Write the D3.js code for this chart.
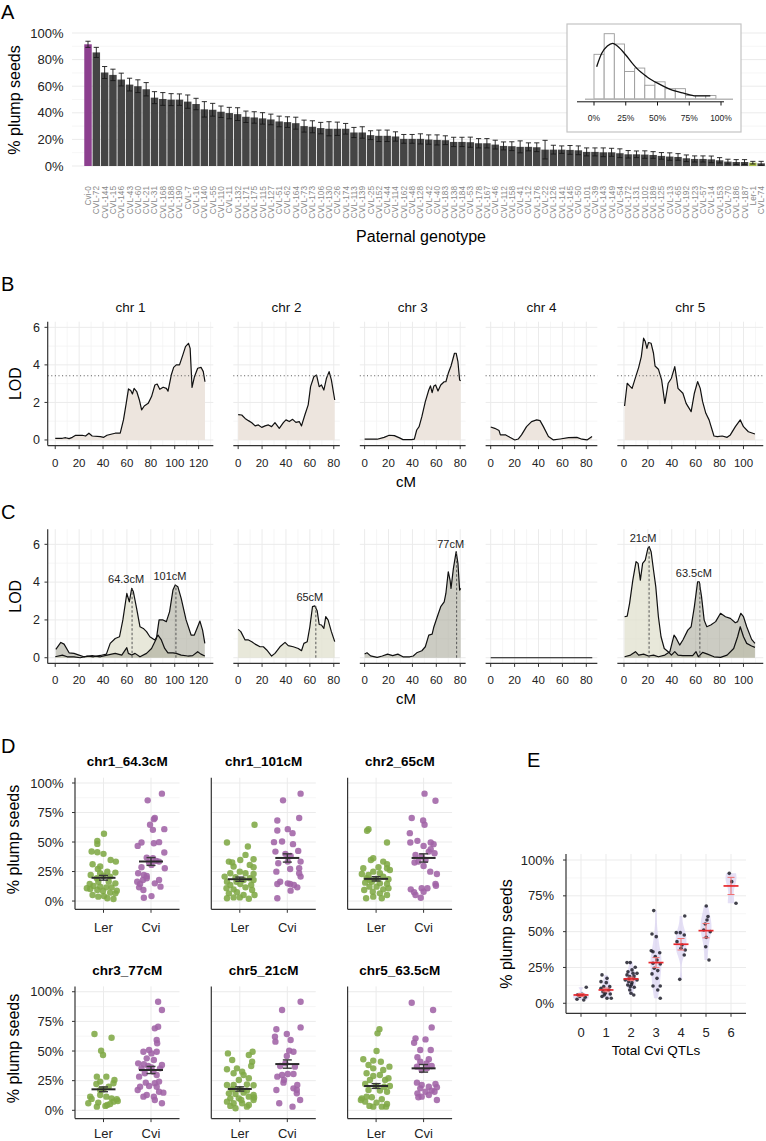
<!DOCTYPE html>
<html><head><meta charset="utf-8">
<script src="https://cdn.jsdelivr.net/npm/d3@7/dist/d3.min.js"></script>
<style>
html,body{margin:0;padding:0;background:#fff;}
svg{display:block;}
text{font-family:"Liberation Sans",Arial,Helvetica,sans-serif;}
</style></head><body>
<svg id="fig" width="766" height="1141"></svg>
<script>
// ================= DATA =================
const genotypes = ["Cvi-0","CVL-72","CVL-144","CVL-15","CVL-146","CVL-43","CVL-60","CVL-21","CVL-31","CVL-168","CVL-188","CVL-190","CVL-7","CVL-16","CVL-140","CVL-55","CVL-110","CVL-11","CVL-132","CVL-171","CVL-175","CVL-115","CVL-127","CVL-51","CVL-62","CVL-164","CVL-73","CVL-173","CVL-106","CVL-130","CVL-26","CVL-174","CVL-113","CVL-139","CVL-25","CVL-152","CVL-44","CVL-114","CVL-162","CVL-48","CVL-128","CVL-42","CVL-40","CVL-183","CVL-138","CVL-184","CVL-53","CVL-178","CVL-167","CVL-46","CVL-112","CVL-158","CVL-41","CVL-12","CVL-176","CVL-22","CVL-126","CVL-141","CVL-145","CVL-50","CVL-101","CVL-39","CVL-143","CVL-149","CVL-54","CVL-172","CVL-131","CVL-102","CVL-189","CVL-125","CVL-13","CVL-65","CVL-192","CVL-123","CVL-57","CVL-14","CVL-153","CVL-70","CVL-186","CVL-187","Ler-1","CVL-74"];
const plumpPct = [91.5,85.4,70.3,68.5,65,61.2,60,57.7,51.4,50.4,49.9,49.9,48.4,46.6,42.6,42.3,40.8,39.8,39,37,36.5,35.8,35,33.5,33,32.2,30,29.5,28.5,28,28,28,25.2,25.2,23.2,22.7,22.7,22.2,20.4,20.4,20.4,19.9,19.6,19.4,18.1,18.1,17.9,17.1,17.1,16.1,15.1,14.9,14.4,14.4,14.1,12.3,12.3,12.3,12.1,11.8,10.6,10.6,10.3,10.3,9.6,8.8,8.8,8.6,8.3,7.6,7.1,6.8,5.8,5.3,5.3,5.0,4.3,3.3,3,3,2.5,2];
const plumpSE = [2.3,3.8,4.5,4.3,4.8,4.8,4.8,5,4.5,4.8,4.5,4.3,5,4.3,5.8,4.8,4.3,4.3,4.8,4.3,4.3,4.3,4,4,4,4.5,4.5,4.5,4.3,5.3,5,4,3.8,4.3,3.3,4.3,4.3,3.5,3.3,3.3,3.8,3.5,3.8,3.3,3.5,3.5,3.8,3.5,3.5,3.3,3,3.3,4.5,3,3.3,7,3.3,2.8,3.3,3.3,3,3,3.3,3,3.3,2.8,2.5,2.8,2.5,2.5,2.8,2.5,2.5,2.3,2.3,2.5,2,1.8,1.8,1.8,1,1.5];
const parentCvi = "Cvi-0", parentLer = "Ler-1";
const barTicks = [0,20,40,60,80,100];

const histEdges = [0,8,16,24,32,40,48,56,64,72,80,88,96];
const histCounts = [13,19,16,8,9,4,5,3,3,1,1,1];
const densityCurve = [[2.1,9.4],[6.1,13.3],[10.5,15.4],[14.7,16.2],[18.4,15.4],[25,12.8],[29.7,10.6],[33.7,8.9],[41.6,6.5],[50,4.6],[60,2.8],[70.5,1.7],[80.3,0.9],[91.6,0.9]];
const insetTicks = [0,25,50,75,100];

const chrNames = ["chr 1","chr 2","chr 3","chr 4","chr 5"];
const chrLen = [126,81,80.5,85,111];
const lodThreshold = 3.42;

const scanB_chr1 = [[0,0.09],[6,0.09],[8.7,0.12],[11.6,0.07],[14.3,0.14],[17.1,0.25],[22.6,0.25],[25.4,0.21],[28.2,0.36],[30.9,0.21],[37.8,0.18],[40.6,0.14],[43.3,0.25],[47.5,0.32],[50.2,0.36],[54.4,0.36],[57.1,1.07],[59.4,1.95],[61.3,2.72],[63.2,2.63],[64.6,2.45],[66,2.75],[68.2,2.58],[70.4,2.13],[72.3,1.6],[74.5,1.81],[77.8,1.95],[80.6,2.31],[83.4,2.93],[85.3,2.98],[87.5,2.7],[90.3,2.81],[93,2.75],[94.4,2.6],[97.1,3.46],[99.1,3.87],[101.3,4.0],[104,4.0],[106.8,4.53],[109,4.97],[111.5,5.15],[112.9,4.88],[114.5,2.8],[116.5,3.37],[119.2,3.82],[122,3.87],[123.9,3.64],[125.3,3.1]];
const scanB_chr2 = [[0,1.35],[3,1.33],[5.8,1.15],[8.6,1.03],[11.4,0.92],[14.2,0.75],[16.9,0.8],[19.7,0.67],[22.5,0.75],[25.3,0.8],[28,0.71],[30.8,0.92],[34.4,0.62],[37.8,0.92],[40,1.07],[42.8,0.98],[45.6,1.1],[48.3,0.94],[51.1,0.98],[53,0.75],[55.8,1.33],[58.6,1.87],[60.6,2.84],[63.3,3.37],[65.6,3.46],[67.8,2.84],[69.7,2.93],[71.7,2.66],[73.9,3.29],[76.1,3.64],[78,3.2],[80.8,2.13]];
const scanB_chr3 = [[0,0.05],[5,0.04],[10.5,0.04],[16.3,0.14],[20.6,0.25],[24.9,0.23],[29.2,0.11],[32.1,0.02],[39.3,0.02],[41.6,0.04],[43.6,0.53],[45.6,0.71],[47.9,1.24],[50.8,2.04],[53.7,2.66],[55.1,2.88],[56.5,2.52],[58,2.88],[59.4,2.93],[61.4,2.61],[63.7,2.93],[66.6,3.1],[68,3.1],[70,3.55],[72.3,3.94],[75.2,4.62],[76.6,4.62],[78.1,4.17],[79.5,3.2],[80.4,3.16]];
const scanB_chr4 = [[0,0.69],[3.4,0.62],[7,0.5],[8.1,0.27],[12.6,0.27],[16,0.14],[20.2,0],[23,0.05],[25.8,0.27],[30,0.71],[34.2,0.98],[38.5,1.07],[41.3,1.03],[44.1,0.71],[48.3,0.18],[52.5,0],[58.1,0.05],[65.1,0.12],[72.1,0.14],[76.4,0.04],[80.6,0],[84.8,0.18]];
const scanB_chr5 = [[0.5,1.81],[2.7,3.02],[4.7,2.88],[6.8,2.75],[9,3.2],[12.3,3.87],[14.5,4.44],[16.4,5.42],[17.8,5.24],[19.2,4.88],[20.5,5.19],[22.7,5.15],[24.7,4.62],[26,3.94],[28.8,3.77],[31.5,3.2],[34.2,1.95],[37,3.02],[39.7,3.29],[42.5,3.91],[43.8,3.37],[45.2,2.75],[49.3,2.49],[52,1.95],[56.2,1.51],[58.9,2.49],[61.6,3.11],[63.8,2.75],[65.8,2.04],[68.5,1.42],[71.2,1.07],[75.3,0.21],[78.1,0.18],[82.2,0.21],[86.3,0.14],[89,0.27],[93.2,0.71],[97.3,1.07],[100,0.71],[104.1,0.44],[109.6,0.32]];

const scanC_chr1_q1 = [[0,0.05],[6,0.14],[10,0.05],[15.7,0.05],[21,0],[26.8,0.09],[32,0.05],[37.8,0.12],[42.8,0.19],[46,0.76],[50.2,1.02],[53.8,1.11],[56.6,2.0],[59.9,3.4],[62,2.96],[64,3.67],[65.4,3.49],[68.1,2.61],[70.9,1.64],[73.7,1.55],[76.4,1.38],[79.2,1.11],[83.3,0.94],[86,1.2],[88.8,0.94],[91.6,0.49],[94.3,0.26],[98.5,0.26],[101.2,0.23],[105.4,0.14],[110.9,0.09],[115,0.11],[119.2,0.32],[121.9,0.19],[125.2,0.09]];
const scanC_chr1_q2 = [[0.5,0.44],[4.7,0.81],[7.4,0.72],[11.6,0.26],[15.7,0.23],[19.9,0.14],[24,0.05],[30.9,0.11],[37.8,0.05],[43.3,0.14],[50.2,0.23],[55.7,0.14],[59.9,0.53],[61.2,0.23],[64,0.14],[66.8,0.23],[70.9,0.05],[76.4,0.23],[80.6,0.49],[84.7,1.02],[86.9,2.0],[90.2,2.0],[93,1.91],[95.7,2.44],[98.5,3.58],[100.4,3.85],[102.6,3.76],[105.4,3.14],[109.5,2.0],[113.7,1.2],[116.4,1.2],[119.2,1.64],[121.1,1.94],[123.3,1.46],[125.2,0.76]];
const scanC_chr2 = [[0,1.5],[2.2,1.38],[5.8,0.94],[8.6,0.94],[11.4,0.85],[14.2,0.72],[18.3,0.58],[21.1,0.58],[23.9,0.41],[28,0.09],[30.8,0.23],[35,0.58],[39.2,0.81],[41.9,0.64],[46.1,0.58],[50.3,0.49],[53,0.37],[55,0.76],[57.8,0.85],[60,1.64],[62.2,2.7],[64.2,2.74],[66.1,2.49],[67.8,1.76],[69.7,1.73],[71.7,1.55],[73.3,2.17],[75.3,1.99],[78,1.38],[80.8,0.85]];
const scanC_chr3 = [[0,0.2],[2,0.26],[5,0.1],[10.5,0.02],[14.8,0.09],[19.2,0.19],[23.5,0.11],[27.8,0.19],[32.1,0.05],[37.8,0.05],[40.7,0.09],[43.6,0.26],[47.9,0.37],[50.8,0.58],[53.7,1.2],[56.5,1.25],[58,1.64],[60.8,2.17],[63.7,2.7],[66.6,2.96],[68,3.4],[70,4.55],[71.5,4.11],[72.3,3.67],[74.3,4.73],[76.6,5.61],[78.1,4.99],[79.5,3.58],[80.4,3.67]];
const scanC_chr4 = [[0,0],[85,0]];
const scanC_chr5_q1 = [[0.5,2.17],[2.7,2.2],[4.7,2.88],[7.4,4.11],[10.1,5.08],[11.8,4.99],[13.7,4.11],[15.6,4.99],[17.8,5.17],[20,5.79],[21.1,5.88],[22.7,5.61],[24.7,4.64],[26.6,3.76],[28.8,2.17],[31,1.11],[33.7,0.49],[37,0.32],[39.7,0.14],[42.5,0.32],[45.2,0.14],[49.3,0.11],[53.4,0.11],[57.5,0.11],[60.3,0.32],[62.2,0.05],[65.8,0.28],[69.9,0.19],[75.3,0.05],[80.8,0.02],[86.3,0.14],[91.8,0.49],[95.1,1.11],[97.3,1.64],[100,1.11],[102.7,0.76],[106.8,0.62],[109.6,0.55]];
const scanC_chr5_q2 = [[0.5,0.05],[5.5,0.14],[9.6,0.32],[12.3,0.14],[16.4,0.19],[20.5,0.09],[24.7,0.14],[28.8,0.05],[34.2,0.14],[38.4,0.32],[41.9,1.2],[43.8,1.02],[46.6,0.67],[49.3,0.94],[53.4,1.46],[56.2,1.64],[58.9,2.7],[61.6,4.02],[63,4.02],[64.9,3.23],[67.1,1.99],[69.3,1.64],[72.6,1.73],[76.7,1.91],[80.8,2.35],[84.9,2.17],[89,2.08],[93.2,1.85],[95.1,1.91],[97.8,2.35],[100,2.17],[102.7,1.64],[106.8,0.97],[109.6,0.76]];

const qtlChr = [0,0,1,2,4,4];
const qtlPos = [64.3,101,65,77,21,63.5];
const qtlLod = [3.67,3.85,2.74,5.55,5.88,4.02];
const qtlLabels = ["64.3cM","101cM","65cM","77cM","21cM","63.5cM"];

// Panel D: [jitter (category units), % plump seeds]
const dTitles = ["chr1_64.3cM","chr1_101cM","chr2_65cM","chr3_77cM","chr5_21cM","chr5_63.5cM"];
const dGroups = ["Ler","Cvi"];
const d1Ler = [[0.01,57],[-0.13,51],[-0.13,48.4],[-0.25,42],[-0.13,41.4],[0,40],[0.15,34.8],[0.26,33.4],[-0.23,31.2],[-0.07,29.2],[-0.12,27.2],[0.08,24.9],[0.25,24.1],[-0.27,22.1],[-0.07,23.5],[0,21.5],[0.14,20.7],[-0.14,19.3],[-0.11,16.4],[-0.29,14.4],[0.25,15],[-0.21,12.7],[-0.07,12.2],[0.06,11.6],[0.17,11.6],[0.11,16.4],[-0.28,10.2],[-0.13,9.3],[-0.01,8.5],[0.14,7.1],[0.28,8.8],[-0.23,5.1],[-0.11,3.7],[0.01,4.2],[0.08,2.3],[0.21,1.7],[0.25,6.5],[-0.35,10.8]];
const d1Cvi = [[0.23,91],[-0.07,85.3],[0.08,70.3],[0.06,69.4],[-0.02,64.6],[0.04,60.3],[0.28,60.9],[-0.2,49.6],[-0.28,46.7],[0.06,49],[0.17,49.9],[0.28,41.1],[-0.09,36.8],[0.04,36.3],[-0.04,32.6],[0.11,34],[0.17,33.4],[0.01,30.6],[-0.2,28.6],[0.29,27.8],[-0.27,23.5],[-0.15,22.1],[-0.09,19.3],[-0.17,17.8],[-0.29,16.4],[-0.23,14.4],[0.17,17.8],[0.08,15],[0.2,12.2],[-0.25,11.6],[-0.16,9.3],[0.01,4.2],[-0.15,2.8],[-0.09,21.2]];
const d2Ler = [[0.31,64.6],[-0.27,49.6],[0.17,46.2],[0.12,39.1],[-0.23,33.4],[-0.16,32.6],[0.01,34.8],[0.29,35.4],[-0.13,29.2],[0.21,30.6],[0.29,28.6],[0,24.9],[-0.2,23.5],[0.12,23.5],[0.29,22.9],[-0.32,20.7],[-0.09,20.1],[0.21,19.3],[-0.27,16.4],[-0.07,16.4],[0.08,17.8],[0.29,17.8],[-0.2,13.6],[0.01,14.4],[0.24,13.6],[-0.28,10.8],[-0.13,9.9],[0.12,11.6],[0.26,9.3],[-0.23,6.5],[-0.06,7.4],[0.08,5.1],[-0.27,2.3],[-0.13,3.1],[0.19,2],[0.31,5.1],[0,3.1]];
const d2Cvi = [[0.28,91],[-0.09,85.3],[0.25,70.3],[-0.21,68.3],[0.01,60.9],[-0.21,59.8],[0.11,57.5],[-0.11,50.4],[-0.28,49.9],[0.12,48.2],[-0.25,41.9],[0.23,42.5],[-0.04,40],[0.07,38.2],[-0.19,32],[0.01,33.4],[0.28,33.4],[-0.23,24.9],[0.06,27.2],[0.25,27.8],[0.28,20.7],[0.25,23.5],[-0.15,16.4],[-0.21,14.4],[0.06,14.4],[0.14,13.6],[0.21,11.6],[0.07,8.8],[0.01,15],[-0.21,2.3]];
const d3Ler = [[-0.16,60.9],[-0.19,59.5],[0.23,49.6],[-0.06,36.3],[-0.11,34.8],[0.15,33.4],[0.23,31.2],[-0.27,27.8],[-0.06,24.9],[-0.3,22.9],[0.08,23.5],[0.23,27.8],[0.29,26.3],[-0.2,19.3],[0,18.7],[0.15,20.7],[0.26,18.4],[-0.23,15.6],[-0.09,16.4],[0.08,15],[0.23,14.4],[-0.14,12.2],[0.01,12.2],[0.15,9.9],[0.26,10.8],[-0.25,9.3],[-0.07,7.9],[0.08,6.5],[-0.21,2.3],[-0.06,3.7],[0.12,2.3],[0.23,5.1],[-0.13,17.8],[-0.16,22.1],[0.05,28.6]];
const d3Cvi = [[0.02,91],[0.25,85],[-0.25,70.3],[-0.01,68.3],[0.02,64.6],[-0.29,57.5],[-0.28,49.6],[-0.13,51],[0,46.7],[0.15,49.6],[0.21,48.2],[-0.17,39.1],[-0.04,37.7],[0.11,41.9],[0.23,40.5],[-0.19,32.6],[-0.11,33.4],[0,29.7],[0.04,34.8],[0.14,24.9],[0.28,22.9],[0.15,44],[0.25,14.4],[0.26,13],[-0.27,9.9],[-0.2,7.4],[-0.04,10.8],[0,7.9],[0.08,10.8],[-0.06,2.8],[-0.17,5.1]];
const d4Ler = [[-0.19,64.3],[0.17,61.2],[-0.05,50.3],[-0.01,46.6],[-0.14,28.4],[0.06,28.4],[0.23,25.6],[-0.07,24.2],[-0.15,22.2],[0.11,19.9],[0.21,22.8],[0,17.7],[-0.28,11.5],[-0.07,12.9],[0.06,11.5],[0.17,10.1],[0.28,9.3],[0.21,7.3],[0.3,7.9],[-0.32,5.9],[-0.11,6.5],[0.04,3.7],[-0.14,3.1],[0.08,4.5],[0.14,5.3],[-0.25,9.6],[-0.07,17.1]];
const d4Cvi = [[0.15,91.6],[0.23,84.6],[0.08,69.1],[0.15,70.5],[0.12,59.3],[0.13,56.5],[-0.16,49.4],[-0.04,50.8],[0.01,48],[0.12,49.4],[-0.09,43.8],[0.06,42.4],[-0.27,39.6],[-0.15,38.8],[-0.06,37.4],[0.23,38.2],[-0.2,35.4],[0.01,36.2],[0.19,35.4],[-0.13,31.2],[0.05,32.6],[-0.25,28.4],[0.12,29.8],[-0.11,23.3],[0.08,22.8],[0.17,24.2],[-0.23,19.9],[-0.04,20.5],[0.12,19.9],[-0.28,17.1],[0.17,15.7],[-0.09,12.9],[0.26,14.9],[-0.16,11.5],[0.08,8.7],[0.06,11.5],[0.23,5.9]];
const d5Ler = [[-0.25,48],[0.19,46.6],[0.27,49.4],[-0.16,42.4],[0.26,41],[0.24,37.4],[-0.27,34.6],[-0.06,35.4],[0.05,32.6],[-0.13,31.2],[0.08,29.8],[0.19,27],[-0.02,25.6],[-0.27,21.3],[-0.13,21.3],[0.15,21.9],[0.29,21.1],[-0.16,17.7],[0,17.7],[0.15,16.6],[-0.23,14.3],[-0.09,13.8],[0.08,14.9],[0.29,12.9],[-0.2,10.1],[-0.02,10.1],[0.19,11.5],[0.29,8.7],[-0.27,7.3],[-0.13,5.9],[0.05,5.9],[0.19,4.5],[-0.09,1.7],[0.15,3.1],[-0.2,3.7],[0.3,10.8],[0.03,8.7]];
const d5Cvi = [[0.28,91.6],[-0.11,84.6],[0.28,69.9],[-0.23,68.3],[-0.26,62.1],[-0.25,57.9],[-0.01,64.3],[0.07,59.3],[0.04,50.3],[-0.01,45.8],[0.13,49.4],[-0.04,39.6],[-0.15,37.4],[0.16,36.8],[-0.21,28.4],[-0.11,29.8],[0.01,30.6],[0.13,30.6],[-0.07,25.6],[0.21,21.3],[0.13,18.5],[-0.23,17.1],[0.2,17.1],[0.2,14.3],[0.27,8.7],[-0.17,5.9],[0.11,3.1],[-0.08,23.3]];
const d6Ler = [[0.07,68.3],[0.03,64.9],[0.01,50],[-0.27,43],[-0.06,41.9],[-0.16,38.2],[0.1,41],[0.28,36.8],[-0.06,35.4],[0.15,34],[-0.2,31.2],[-0.06,28.9],[0.08,29.8],[0.26,27],[-0.13,25.6],[0.19,25.6],[-0.23,22.2],[0,20.5],[0.29,20.5],[-0.16,17.1],[0.08,16.6],[0.23,15.7],[-0.3,10.1],[-0.09,11],[0.12,9.3],[-0.23,7.3],[0.01,6.5],[0.23,5.3],[-0.14,3.7],[-0.06,3.1],[0.12,3.1],[0.21,3.1],[-0.32,8.7],[-0.2,11.5],[0.17,19.9]];
const d6Cvi = [[-0.25,90.7],[0.2,84.6],[0.17,69.9],[-0.17,60.7],[0.04,59.8],[-0.2,57],[-0.07,50.8],[0.15,50.8],[-0.13,44.7],[0.11,43],[-0.07,41],[0.06,39.6],[0.17,37.4],[-0.14,36.8],[-0.04,34],[0.07,35.4],[-0.14,23.3],[-0.04,21.3],[0.11,19.9],[0.25,22.2],[0.28,19.4],[-0.07,18.5],[0.17,16.6],[0.04,15.7],[-0.13,14.3],[-0.04,11.5],[0.11,12.9],[0.23,15.7],[0.28,8.7],[-0.11,11]];
const dLerMean = [19.7,18.5,18.8,17.7,18,20.5];
const dLerSE = [2,1.8,1.8,2,1.8,2];
const dCviMean = [33.5,36.5,36.5,34,39,35.4];
const dCviSE = [3.3,3.5,3.5,3,3.5,3.2];
const pctTicks = [0,25,50,75,100];

// Panel E: points per number of Cvi QTLs, [jitter (category units), %]
const eCounts = [0,1,2,3,4,5,6];
const eP0 = [[-0.16,2.8],[-0.05,4.7],[0.11,2.3],[0.17,4.2],[0.21,11.2],[0.04,6.3],[-0.13,6]];
const eP1 = [[-0.16,19.8],[0.04,17.4],[-0.2,15.1],[0.01,14.4],[-0.09,11.6],[0.11,9.3],[-0.12,8.1],[-0.03,7],[0.17,6.5],[0.21,3.5],[0.04,3.5],[-0.16,4.7],[-0.07,5.8],[0.15,11.6],[-0.2,10.5]];
const eP2 = [[-0.16,28.4],[-0.03,28.4],[0.17,25.1],[0.04,23.3],[0.24,20.9],[-0.16,19.8],[-0.05,18.6],[0.11,17.4],[-0.09,15.1],[0.04,14.4],[-0.13,12.8],[-0.03,11.6],[0.13,11.2],[-0.05,9.3],[0.11,5.8],[-0.23,16.3],[0.24,16.3],[0,7],[0.02,13],[-0.08,17],[0.08,21],[-0.12,22],[0.12,19]];
const eP3 = [[-0.09,64.7],[-0.16,48.4],[0.01,46.5],[-0.19,36.7],[-0.12,36],[0.15,35.3],[-0.03,32.6],[0.04,30.2],[-0.12,27.9],[0.17,27.4],[-0.07,24.4],[0.07,22.8],[-0.16,20.5],[0.04,17.4],[-0.12,12.1],[0.17,12.1],[0.07,9.3],[0.17,3.5]];
const eP4 = [[-0.19,49.3],[-0.03,49.3],[0.13,47.7],[-0.16,43],[0.04,40.7],[0.17,37.2],[0.13,33.7],[0.15,60.9],[-0.05,16.7],[0,38.4]];
const eP5 = [[0.01,67.9],[0.08,60.5],[0.04,58.1],[-0.03,55.3],[0.17,50],[-0.09,51.2],[0.01,46],[-0.01,39.5],[0.12,30.2]];
const eP6 = [[-0.07,90.7],[0.03,84.9],[0.2,69.8]];
const eMean = [5.8,9.3,17,28.4,41.2,50.7,81.9];
const eSE = [1,1.3,1.2,3.5,4,5,6];

// ================= DRAWING =================
const svg = d3.select("#fig");
const GRID = "#ebebeb", GRIDMIN = "#f4f4f4", TXT = "#222";
function hline(g, x1, x2, y, col, w){ g.append("line").attr("x1",x1).attr("x2",x2).attr("y1",y).attr("y2",y).attr("stroke",col).attr("stroke-width",w); }
function vline(g, x, y1, y2, col, w){ g.append("line").attr("x1",x).attr("x2",x).attr("y1",y1).attr("y2",y2).attr("stroke",col).attr("stroke-width",w); }
function txt(g, x, y, s, size, anchor, opts={}){
  const t = g.append("text").attr("x",x).attr("y",y).text(s).attr("font-size",size).attr("text-anchor",anchor||"start").attr("fill",opts.fill||TXT);
  if(opts.bold) t.attr("font-weight","bold");
  if(opts.rot) t.attr("transform",`rotate(-90,${x},${y})`);
  return t;
}
function panelLetter(x,y,s){ txt(svg,x,y,s,20,"start",{fill:"#000"}); }

// ---------- Panel A ----------
(function(){
  const g = svg.append("g");
  const y = d3.scaleLinear().domain([0,100]).range([166,33]);
  const x = d3.scaleBand().domain(genotypes).range([83.85,765.3]).paddingInner(0.1).paddingOuter(0.05);
  d3.range(10,100,20).forEach(t=>hline(g,72,766,y(t),GRIDMIN,0.8));
  barTicks.forEach(t=>hline(g,72,766,y(t),GRID,1));
  const bw = x.bandwidth();
  g.selectAll("rect.bar").data(genotypes).join("rect")
    .attr("x",d=>x(d)).attr("width",bw)
    .attr("y",(d,i)=>y(plumpPct[i])).attr("height",(d,i)=>y(0)-y(plumpPct[i]))
    .attr("fill",d=>d===parentCvi?"#8c3f8f":(d===parentLer?"#a9bd4a":"#454545"));
  genotypes.forEach((d,i)=>{
    const cx = x(d)+bw/2, lo=y(plumpPct[i]-plumpSE[i]), hi=y(plumpPct[i]+plumpSE[i]);
    vline(g,cx,lo,hi,"#1a1a1a",0.9);
    hline(g,cx-2.6,cx+2.6,hi,"#1a1a1a",0.9);
    hline(g,cx-2.6,cx+2.6,lo,"#1a1a1a",0.9);
    g.append("text").attr("transform",`translate(${cx+3},186) rotate(-90)`).attr("text-anchor","end")
      .attr("font-size",8.3).attr("fill","#8a8a8a").text(d);
  });
  barTicks.forEach(t=>txt(g,63.5,y(t)+4.6,t+"%",13,"end"));
  txt(g,20,100,"% plump seeds",16,"middle",{rot:true,fill:"#000"});
  txt(g,421,242,"Paternal genotype",16,"middle",{fill:"#000"});
  // inset
  const ig = svg.append("g");
  ig.append("rect").attr("x",567).attr("y",24).attr("width",174).attr("height",108).attr("fill","#fff").attr("stroke","#c4c4c4").attr("stroke-width",1.2);
  const hx = d3.scaleLinear().domain([0,100]).range([594,721]);
  const hy = d3.scaleLinear().domain([0,19]).range([99,33.7]);
  histCounts.forEach((c,i)=>{
    ig.append("rect").attr("x",hx(histEdges[i])).attr("width",hx(histEdges[i+1])-hx(histEdges[i]))
      .attr("y",hy(c)).attr("height",hy(0)-hy(c)).attr("fill","#fff").attr("stroke","#9a9a9a").attr("stroke-width",0.9);
  });
  hline(ig,585,733,99.3,"#b8b8b8",1.6);
  hline(ig,577,724,101.8,"#111",1);
  insetTicks.forEach(t=>{ vline(ig,hx(t),101.8,105.5,"#111",1); txt(ig,hx(t),120.5,t+"%",8.5,"middle"); });
  ig.append("path").datum(densityCurve).attr("fill","none").attr("stroke","#111").attr("stroke-width",1.3)
    .attr("d",d3.line().x(d=>hx(d[0])).y(d=>hy(d[1])).curve(d3.curveMonotoneX));
  panelLetter(1,19,"A");
})();

// ---------- Panels B & C ----------
const chrX = [];
(function(){ let x0 = 47.7; chrLen.forEach(L=>{ const w=L*1.1*1.195; chrX.push(d3.scaleLinear().domain([-0.05*L,1.05*L]).range([x0,x0+w])); x0+=w+20; }); })();

function scanPanel(cfg){
  const g = svg.append("g");
  const y = d3.scaleLinear().domain(cfg.yDom).range(cfg.yRange);
  const [yb, yt] = cfg.yRange;
  chrLen.forEach((L,i)=>{
    const x = chrX[i]; const [x0,x1] = x.range();
    d3.range(10,L*1.05,20).forEach(t=>vline(g,x(t),yt,yb,GRIDMIN,0.8));
    [1,3,5].forEach(t=>hline(g,x0,x1,y(t),GRIDMIN,0.8));
    d3.range(0,L*1.05,20).forEach(t=>vline(g,x(t),yt,yb,GRID,1));
    [0,2,4,6].forEach(t=>hline(g,x0,x1,y(t),GRID,1));
    cfg.curves[i].forEach(c=>{
      if(c.fill) g.append("path").datum(c.data).attr("fill",c.fill).attr("fill-opacity",c.op||1)
        .attr("d",d3.area().x(d=>x(d[0])).y0(y(0)).y1(d=>y(d[1])));
    });
    cfg.curves[i].forEach(c=>{
      g.append("path").datum(c.data).attr("fill","none").attr("stroke","#111").attr("stroke-width",1.2).attr("stroke-linejoin","round")
        .attr("d",d3.line().x(d=>x(d[0])).y(d=>y(d[1])));
    });
    if(cfg.threshold!=null) g.append("line").attr("x1",x0).attr("x2",x1).attr("y1",y(cfg.threshold)).attr("y2",y(cfg.threshold))
      .attr("stroke","#555").attr("stroke-width",1).attr("stroke-dasharray","1,2.6");
    hline(g,x0,x1,yb,"#333",1.2);
    d3.range(0,L*1.05,20).forEach(t=>{ vline(g,x(t),yb,yb+3.5,"#333",1); txt(g,x(t),yb+21,t,11.5,"middle"); });
    if(cfg.facet) txt(g,(x0+x1)/2,311.5,chrNames[i],13.5,"middle",{fill:"#111"});
  });
  vline(g,47.7,yt,yb,"#333",1.2);
  [0,2,4,6].forEach(t=>{ hline(g,44.5,47.7,y(t),"#333",1); txt(g,40,y(t)+4.3,t,12.5,"end"); });
  txt(g,21,(yt+yb)/2,"LOD",16,"middle",{rot:true,fill:"#000"});
  txt(g,406,cfg.cmY,"cM",15,"middle",{fill:"#000"});
  if(cfg.peaks){
    qtlPos.forEach((p,j)=>{
      const x = chrX[qtlChr[j]];
      g.append("line").attr("x1",x(p)).attr("x2",x(p)).attr("y1",y(0)).attr("y2",y(qtlLod[j]))
        .attr("stroke","#555").attr("stroke-width",1).attr("stroke-dasharray","2.5,2");
      txt(g,x(p)-6,y(qtlLod[j])-5,qtlLabels[j],11,"middle");
    });
  }
  return g;
}
const BFILL = "#ede5de";
scanPanel({yDom:[-0.3,6.3], yRange:[445.6,321.7], facet:true, threshold:lodThreshold, cmY:486.5,
  curves:[[{data:scanB_chr1,fill:BFILL}],[{data:scanB_chr2,fill:BFILL}],[{data:scanB_chr3,fill:BFILL}],[{data:scanB_chr4,fill:BFILL}],[{data:scanB_chr5,fill:BFILL}]]});
panelLetter(1,291,"B");
const CLIGHT = "#dedecb", CDARK = "#a3a391";
scanPanel({yDom:[-0.3,6.8], yRange:[663.4,529.2], facet:false, threshold:null, cmY:704, peaks:true,
  curves:[[{data:scanC_chr1_q1,fill:CLIGHT,op:0.7},{data:scanC_chr1_q2,fill:CDARK,op:0.55}],
          [{data:scanC_chr2,fill:CLIGHT,op:0.7}],
          [{data:scanC_chr3,fill:CDARK,op:0.55}],
          [{data:scanC_chr4}],
          [{data:scanC_chr5_q1,fill:CLIGHT,op:0.7},{data:scanC_chr5_q2,fill:CDARK,op:0.55}]]});
panelLetter(1,518.5,"C");

// ---------- Panel D ----------
const dLer = [d1Ler,d2Ler,d3Ler,d4Ler,d5Ler,d6Ler];
const dCvi = [d1Cvi,d2Cvi,d3Cvi,d4Cvi,d5Cvi,d6Cvi];
const GREEN = "#80a845", PURPLE = "#a163a6";
dTitles.forEach((title,i)=>{
  const col = i%3, row = Math.floor(i/3);
  const g = svg.append("g");
  const left = 75 + col*136.3, right = left+104.5;
  const yr = row ? [1118.6,986.4] : [909.3,777.7];
  const y = d3.scaleLinear().domain([-7,104.5]).range(yr);
  const x = d3.scaleLinear().domain([0.4,2.6]).range([left,right]);
  [12.5,37.5,62.5,87.5].forEach(t=>hline(g,left,right,y(t),GRIDMIN,0.8));
  pctTicks.forEach(t=>hline(g,left,right,y(t),GRID,1));
  [1,2].forEach(t=>vline(g,x(t),yr[1],yr[0],GRID,1));
  const pts = [[dLer[i],1,GREEN],[dCvi[i],2,PURPLE]];
  pts.forEach(([arr,c,col])=>{
    g.selectAll(null).data(arr).join("circle").attr("cx",d=>x(c+d[0])).attr("cy",d=>y(d[1])).attr("r",3.2)
      .attr("fill",col).attr("fill-opacity",0.88);
  });
  [[dLerMean[i],dLerSE[i],1],[dCviMean[i],dCviSE[i],2]].forEach(([m,se,c])=>{
    const cx = x(c);
    vline(g,cx,y(m-se),y(m+se),"#3a3a3a",1.4);
    hline(g,cx-4.5,cx+4.5,y(m-se),"#3a3a3a",1.4);
    hline(g,cx-4.5,cx+4.5,y(m+se),"#3a3a3a",1.4);
    hline(g,cx-12,cx+12,y(m),"#2a2a2a",2);
  });
  vline(g,left,yr[1],yr[0],"#333",1.2);
  hline(g,left,right,yr[0],"#333",1.2);
  dGroups.forEach((s,k)=>{ vline(g,x(k+1),yr[0],yr[0]+3.5,"#333",1); txt(g,x(k+1),yr[0]+(row?19:22.4),s,13,"middle"); });
  if(col===0){
    pctTicks.forEach(t=>{ hline(g,left-3,left,y(t),"#333",1); txt(g,63.5,y(t)+4.6,t+"%",13,"end"); });
    txt(g,19,(yr[0]+yr[1])/2-4,"% plump seeds",16,"middle",{rot:true,fill:"#000"});
  }
  txt(g,(left+right)/2,row?975:766,title,13.5,"middle",{bold:true,fill:"#000"});
});
panelLetter(1,752.5,"D");

// ---------- Panel E ----------
(function(){
  const g = svg.append("g");
  const x = d3.scaleLinear().domain([-0.6,6.6]).range([566,746]);
  const y = d3.scaleLinear().domain([-7,104.2]).range([1013.3,854]);
  [12.5,37.5,62.5,87.5].forEach(t=>hline(g,566,746,y(t),GRIDMIN,0.8));
  pctTicks.forEach(t=>hline(g,566,746,y(t),GRID,1));
  eCounts.forEach(t=>vline(g,x(t),854,1013.3,GRID,1));
  const groups = [eP0,eP1,eP2,eP3,eP4,eP5,eP6];
  groups.forEach((arr,k)=>{
    const vals = arr.map(d=>d[1]).sort(d3.ascending);
    const sd = d3.deviation(vals)||1;
    const iqr = (d3.quantile(vals,0.75)-d3.quantile(vals,0.25))/1.34;
    const bw = 0.9*Math.min(sd, iqr>0?iqr:sd)*Math.pow(vals.length,-0.2);
    const lo = vals[0], hi = vals[vals.length-1];
    const grid = d3.range(0,41).map(j=>lo+(hi-lo)*j/40);
    const dens = grid.map(v=>[v,d3.mean(vals,u=>Math.exp(-0.5*((v-u)/bw)**2))]);
    const mx = d3.max(dens,d=>d[1]);
    const hw = k===0?8:5.5;
    g.append("path").datum(dens).attr("fill","#d4ccf0").attr("fill-opacity",0.6)
      .attr("d",d3.area().y(d=>y(d[0])).x0(d=>x(k)-d[1]/mx*hw).x1(d=>x(k)+d[1]/mx*hw).curve(d3.curveBasis));
  });
  groups.forEach((arr,k)=>{
    g.selectAll(null).data(arr).join("circle").attr("cx",d=>x(k+d[0])).attr("cy",d=>y(d[1])).attr("r",1.8).attr("fill","#1e1e2a").attr("fill-opacity",0.85);
  });
  eCounts.forEach((k,i)=>{
    const cx = x(k);
    vline(g,cx,y(eMean[i]-eSE[i]),y(eMean[i]+eSE[i]),"#ef6f6f",1);
    hline(g,cx-3.5,cx+3.5,y(eMean[i]-eSE[i]),"#ef6f6f",1);
    hline(g,cx-3.5,cx+3.5,y(eMean[i]+eSE[i]),"#ef6f6f",1);
    hline(g,cx-7.5,cx+7.5,y(eMean[i]),"#e8262b",1.7);
  });
  vline(g,566,854,1013.3,"#333",1.2);
  hline(g,566,746,1013.3,"#333",1.2);
  pctTicks.forEach(t=>{ hline(g,563,566,y(t),"#333",1); txt(g,554,y(t)+4.6,t+"%",13,"end"); });
  eCounts.forEach(t=>{ vline(g,x(t),1013.3,1016.8,"#333",1); txt(g,x(t),1036.7,t,13,"middle"); });
  txt(g,656,1054.5,"Total Cvi QTLs",13.5,"middle",{fill:"#000"});
  txt(g,512,934,"% plump seeds",16,"middle",{rot:true,fill:"#000"});
  panelLetter(527,767,"E");
})();
</script>
</body></html>
